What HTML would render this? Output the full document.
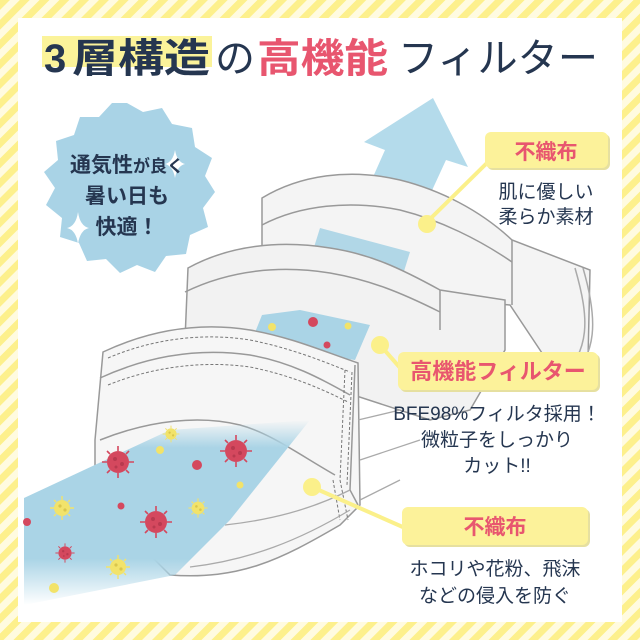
<!DOCTYPE html>
<html><head><meta charset="utf-8"><style>
html,body{margin:0;padding:0;width:640px;height:640px;overflow:hidden;background:#fff}
svg{display:block}
text{font-family:"Liberation Sans","Noto Sans CJK JP",sans-serif}
</style></head><body>
<svg width="640" height="640" viewBox="0 0 640 640" xmlns="http://www.w3.org/2000/svg">
<defs>
<pattern id="st" width="14" height="14" patternUnits="userSpaceOnUse" patternTransform="rotate(45)">
<rect width="14" height="14" fill="#fffbe0"/><rect width="7" height="14" fill="#fdf08c"/>
</pattern>
<linearGradient id="bf" x1="0" y1="1" x2="0" y2="0">
<stop offset="0" stop-color="#aad4e6" stop-opacity="0"/><stop offset="0.25" stop-color="#aad4e6"/><stop offset="0.85" stop-color="#aad4e6"/><stop offset="1" stop-color="#aad4e6" stop-opacity="0"/>
</linearGradient>
<g id="vr"><circle r="11" fill="#d4485e"/><g stroke="#d4485e" stroke-width="1.6"><path d="M0-11V-16M0 11V16M-11 0H-16M11 0H16M8-8L11-11M-8-8L-11-11M8 8L11 11M-8 8L-11 11"/></g><circle cx="-3" cy="-3" r="2" fill="#b83a4f"/><circle cx="4" cy="2" r="2" fill="#b83a4f"/><circle cx="-2" cy="5" r="1.5" fill="#b83a4f"/></g>
<g id="vy"><circle r="8" fill="#f2e36a"/><g stroke="#f2e36a" stroke-width="1.4"><path d="M0-8V-12M0 8V12M-8 0H-12M8 0H12M6-6L8-8M-6-6L-8-8M6 6L8 8M-6 6L-8 8"/></g><circle cx="-2" cy="-2" r="1.6" fill="#d9c64e"/><circle cx="3" cy="2" r="1.6" fill="#d9c64e"/></g>
</defs>
<rect width="640" height="640" fill="url(#st)"/>
<rect x="18" y="18" width="604" height="604" fill="#fff"/>

<!-- title -->
<rect x="42" y="36" width="170" height="31" fill="#fbf39a"/>
<text x="44" y="72" font-size="40" fill="#253650" font-weight="bold">3</text>
<text x="72" y="72" font-size="40" fill="#253650" font-weight="bold" textLength="138" lengthAdjust="spacingAndGlyphs">層構造</text>
<text x="215" y="72" font-size="40" fill="#253650">の</text>
<text x="257" y="72" font-size="40" fill="#e8566f" font-weight="bold" textLength="131" lengthAdjust="spacingAndGlyphs">高機能</text>
<text x="398" y="72" font-size="40" fill="#253650" textLength="200" lengthAdjust="spacingAndGlyphs">フィルター</text>

<!-- badge -->
<path d="M127,103 L143,112 L162,108 L172,124 L192,128 L195,147 L212,158 L205,176 L215,192 L203,208 L208,227 L190,235 L186,254 L166,256 L155,272 L137,265 L120,273 L106,259 L87,261 L79,243 L60,237 L62,218 L46,205 L55,188 L44,172 L58,160 L56,141 L74,135 L80,117 L99,117 L112,103 Z" fill="#a9d3e6"/>
<path d="M175,150 q2,12 10,14 q-8,2 -10,14 q-2,-12 -10,-14 q8,-2 10,-14Z" fill="#fff"/>
<path d="M78,212 q2,14 11,16 q-9,2 -11,16 q-2,-14 -11,-16 q9,-2 11,-16Z" fill="#fff"/>
<text x="127" y="172" font-size="21" fill="#253650" text-anchor="middle" font-weight="bold">通気性<tspan font-size="17">が良く</tspan></text>
<text x="127" y="203" font-size="21" fill="#253650" text-anchor="middle" font-weight="bold">暑い日も</text>
<text x="127" y="234" font-size="21" fill="#253650" text-anchor="middle" font-weight="bold">快適！</text>

<!-- arrow -->
<path d="M433,98 L468,167 L446,160 L400,260 L345,240 L385,150 L364,142 Z" fill="#b4dbeb"/>

<!-- rear mask layer -->
<path d="M262,198 C300,175 350,168 400,180 C440,190 480,210 512,240 L590,270 L588,360 L560,380 L510,305 L440,300 L262,252 Z" fill="#f4f4f4" stroke="#999" stroke-width="1.5"/>
<path d="M262,225 C300,205 350,200 400,210 C440,220 480,240 512,262" fill="none" stroke="#999" stroke-width="1.5"/>
<path d="M512,240 L512,305" stroke="#999" stroke-width="1.5"/>
<path d="M575,268 C590,320 590,350 560,380 M583,268 C598,320 598,355 566,384" fill="none" stroke="#aaa" stroke-width="1.5"/>
<path d="M320,228 L410,252 L395,300 L305,276 Z" fill="#aad4e6" opacity="0.9"/>

<!-- middle layer -->
<path d="M188,268 C230,245 280,240 330,248 C370,254 400,268 440,290 L505,300 L505,350 L470,410 L430,420 L185,340 Z" fill="#f2f2f2" stroke="#999" stroke-width="1.5"/>
<path d="M185,292 C230,270 280,265 330,273 C370,280 400,292 440,312" fill="none" stroke="#999" stroke-width="1.5"/>
<path d="M440,290 L440,330" stroke="#999" stroke-width="1.5"/>
<path d="M262,315 L300,310 L370,325 L355,360 L250,345 Z" fill="#aad4e6"/>
<circle cx="272" cy="327" r="4" fill="#f2e36a"/><circle cx="313" cy="322" r="5" fill="#d4485e"/><circle cx="348" cy="326" r="3.5" fill="#f2e36a"/><circle cx="327" cy="345" r="3.5" fill="#d4485e"/>

<!-- front layer -->
<path d="M103,352 C150,330 200,322 250,330 C290,337 320,350 358,363 L360,505 L340,525 C280,560 240,580 170,575 L95,500 L95,440 Z" fill="#f6f6f6" stroke="#999" stroke-width="1.5"/>
<path d="M100,378 C150,355 200,348 250,355 C290,362 320,378 350,395" fill="none" stroke="#999" stroke-width="1.5"/>
<path d="M108,358 C150,340 200,332 250,340 C290,348 320,360 350,372" fill="none" stroke="#777" stroke-width="1" stroke-dasharray="3,2"/>
<path d="M108,385 C150,368 200,360 250,367 C290,375 320,388 348,402" fill="none" stroke="#777" stroke-width="1" stroke-dasharray="3,2"/>
<path d="M345,370 L340,480 M352,372 L347,485 M333,480 L340,520 M340,480 L348,520" stroke="#777" stroke-width="1" stroke-dasharray="3,2"/>
<path d="M355,365 L350,490 L358,505" fill="none" stroke="#999" stroke-width="1.5"/>
<path d="M100,440 C150,420 200,415 240,425 C270,433 300,455 335,475" fill="none" stroke="#999" stroke-width="1.5"/>
<path d="M358,420 L400,410 M360,460 L420,440 M360,500 L400,480 M225,525 C270,520 310,510 350,490 M190,567 C250,560 300,540 350,510" fill="none" stroke="#aaa" stroke-width="1.3"/>

<!-- lower blue band -->
<path d="M24,498 L170,430 L310,420 L230,520 L175,575 L24,605 Z" fill="url(#bf)"/>
<use href="#vr" x="118" y="462"/><use href="#vr" x="236" y="451"/><use href="#vr" x="156" y="522"/><use href="#vr" x="65" y="553" transform="translate(65,553) scale(0.6) translate(-65,-553)"/>
<use href="#vy" x="171" y="434" transform="translate(171,434) scale(0.7) translate(-171,-434)"/><use href="#vy" x="62" y="508"/><use href="#vy" x="198" y="508" transform="translate(198,508) scale(0.8) translate(-198,-508)"/><use href="#vy" x="118" y="567"/>
<circle cx="197" cy="465" r="5" fill="#d4485e"/><circle cx="160" cy="450" r="4" fill="#f2e36a"/><circle cx="240" cy="485" r="3.5" fill="#f2e36a"/><circle cx="121" cy="506" r="3.5" fill="#d4485e"/><circle cx="27" cy="522" r="4" fill="#d4485e"/><circle cx="54" cy="588" r="5" fill="#f2e36a"/>

<!-- callouts -->
<path d="M427,222 L490,160" stroke="#fbf08a" stroke-width="4"/>
<circle cx="427" cy="224" r="9" fill="#fbf08a"/>
<path d="M380,345 L402,370" stroke="#fbf08a" stroke-width="4"/>
<circle cx="380" cy="345" r="9" fill="#fbf08a"/>
<path d="M312,487 L405,528" stroke="#fbf08a" stroke-width="4"/>
<circle cx="312" cy="487" r="9" fill="#fbf08a"/>

<rect x="487" y="134" width="123" height="36" rx="6" fill="#e6e0a0"/>
<rect x="485" y="132" width="123" height="36" rx="6" fill="#fcf29a"/>
<text x="546" y="159" font-size="21" fill="#e8566f" text-anchor="middle" font-weight="bold">不織布</text>
<text x="546" y="198" font-size="19" fill="#253650" text-anchor="middle">肌に優しい</text>
<text x="546" y="223" font-size="19" fill="#253650" text-anchor="middle">柔らか素材</text>

<rect x="400" y="354" width="200" height="38" rx="6" fill="#e6e0a0"/>
<rect x="398" y="352" width="200" height="38" rx="6" fill="#fcf29a"/>
<text x="498" y="379" font-size="22" fill="#e8566f" text-anchor="middle" font-weight="bold">高機能フィルター</text>
<text x="497" y="420" font-size="19" fill="#253650" text-anchor="middle">BFE98%フィルタ採用！</text>
<text x="497" y="446" font-size="19" fill="#253650" text-anchor="middle">微粒子をしっかり</text>
<text x="497" y="472" font-size="19" fill="#253650" text-anchor="middle">カット!!</text>

<rect x="404" y="509" width="186" height="38" rx="6" fill="#e6e0a0"/>
<rect x="402" y="507" width="186" height="38" rx="6" fill="#fcf29a"/>
<text x="495" y="534" font-size="21" fill="#e8566f" text-anchor="middle" font-weight="bold">不織布</text>
<text x="495" y="575" font-size="19" fill="#253650" text-anchor="middle">ホコリや花粉、飛沫</text>
<text x="495" y="602" font-size="19" fill="#253650" text-anchor="middle">などの侵入を防ぐ</text>
</svg>
</body></html>
